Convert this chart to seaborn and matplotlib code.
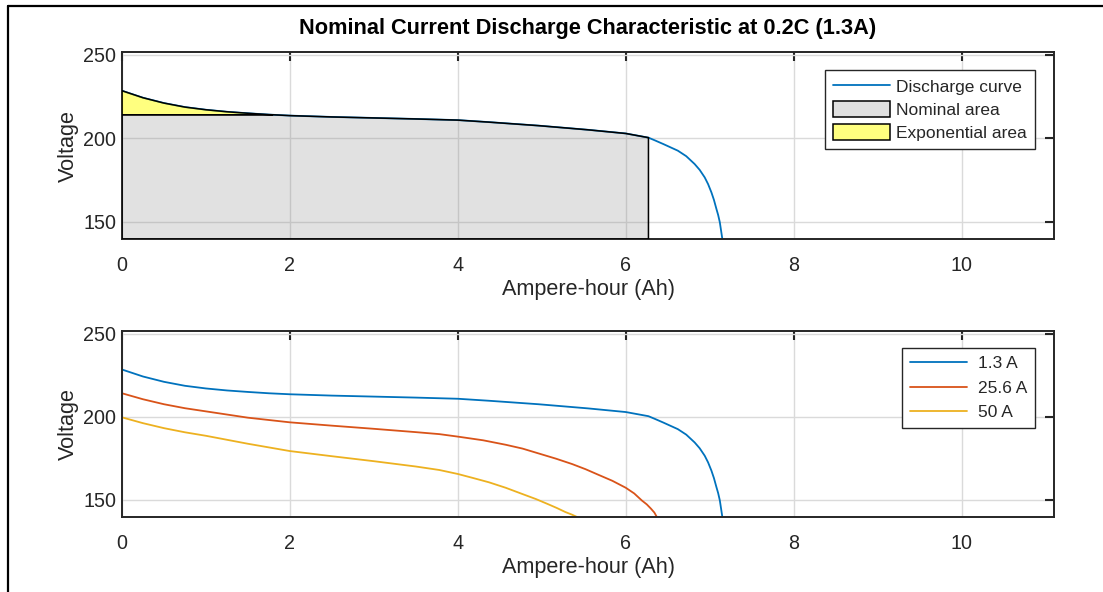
import numpy as np
import pandas as pd
import matplotlib
matplotlib.use("Agg")
import matplotlib.pyplot as plt
from matplotlib.lines import Line2D
from matplotlib.patches import Patch
import seaborn as sns

# ---------------- data ----------------
ah_13 = [0, 0.25, 0.5, 0.75, 1.0, 1.25, 1.5, 1.75, 2.0, 2.5, 3.0, 3.5, 4.0, 4.37,
         4.96, 5.55, 6.0, 6.27, 6.35, 6.45, 6.62, 6.72, 6.82, 6.88, 6.94, 6.98,
         7.02, 7.05, 7.08, 7.10, 7.12, 7.15]
v_13 = [228.4, 224.2, 221.0, 218.6, 217.0, 215.8, 214.9, 214.1, 213.5, 212.7, 212.1,
        211.5, 210.8, 209.6, 207.5, 205.0, 202.8, 200.3, 198.6, 196.4, 192.5, 189.2,
        184.5, 181.0, 176.5, 172.5, 167.5, 163.0, 157.5, 154.0, 149.6, 139.6]

ah_256 = [0, 0.25, 0.5, 0.75, 1.0, 1.5, 2.0, 2.5, 3.0, 3.5, 3.78, 4.0, 4.3, 4.57,
          4.77, 4.96, 5.17, 5.36, 5.52, 5.67, 5.84, 6.0, 6.1, 6.19, 6.25, 6.30,
          6.34, 6.37]
v_256 = [214.1, 210.5, 207.5, 205.1, 203.2, 199.4, 196.6, 194.6, 192.7, 190.7, 189.5,
         188.0, 185.8, 183.1, 180.8, 177.9, 174.7, 171.5, 168.4, 165.1, 161.4, 157.2,
         153.8, 149.6, 147.2, 144.6, 142.3, 139.6]

ah_50 = [0, 0.25, 0.5, 0.75, 1.0, 1.5, 2.0, 2.5, 3.0, 3.5, 3.78, 4.0, 4.18, 4.37,
         4.57, 4.76, 4.93, 5.08, 5.18, 5.28, 5.36, 5.42]
v_50 = [199.6, 196.1, 193.1, 190.6, 188.5, 183.7, 179.3, 176.2, 173.2, 170.0, 167.9,
        165.5, 163.1, 160.5, 157.2, 153.6, 150.4, 147.2, 145.0, 142.6, 141.0, 139.6]

series_labels = ["1.3 A", "25.6 A", "50 A"]
series_colors = ["#0072BD", "#D95319", "#EDB120"]

# exponential / nominal zone limits
q_exp, v_exp = 1.8, 214.0
q_nom, v_nom = 6.27, 200.3

title = "Nominal Current Discharge Characteristic at 0.2C (1.3A)"
xlabel = "Ampere-hour (Ah)"
ylabel = "Voltage"
xticks = [0, 2, 4, 6, 8, 10]
yticks = [150, 200, 250]
xlim = (0, 11.1)
ylim = (139.6, 251.6)

# ---------------- style ----------------
sns.set_theme(style="white")
plt.rcParams['font.family'] = ['Liberation Sans', 'DejaVu Sans']
DARK = "#262626"

fig = plt.figure(figsize=(11.03, 5.92), dpi=100)
W, H = 1103, 592
def axrect(l, t, r, b):
    return [l / W, 1 - b / H, (r - l) / W, (b - t) / H]

ax1 = fig.add_axes(axrect(122, 52, 1054, 239))
ax2 = fig.add_axes(axrect(122, 331, 1054, 517))

def style_axes(ax):
    ax.set_xlim(*xlim)
    ax.set_ylim(*ylim)
    ax.set_xticks(xticks)
    ax.set_yticks(yticks)
    ax.grid(True, color="#DADADA", linewidth=1.0)
    ax.set_axisbelow(True)
    ax.tick_params(direction="in", length=6.5, width=1.5, color=DARK,
                   labelsize=14.2, labelcolor=DARK, top=True, right=True,
                   labeltop=False, labelright=False)
    ax.tick_params(axis="x", pad=12)
    ax.tick_params(axis="y", pad=4)
    for s in ax.spines.values():
        s.set_visible(True)
        s.set_color(DARK)
        s.set_linewidth(1.4)
    ax.set_xlabel(xlabel, fontsize=15.6, color=DARK, labelpad=3)
    ax.set_ylabel(ylabel, fontsize=15.6, color=DARK, labelpad=3)

# ---------------- top panel ----------------
df13 = pd.DataFrame({"Ah": ah_13, "V": v_13})
sns.lineplot(data=df13, x="Ah", y="V", ax=ax1, color=series_colors[0],
             linewidth=1.3, estimator=None, sort=False, zorder=2)

ah_arr = np.array(ah_13)
v_arr = np.array(v_13)
mid = (ah_arr > q_exp) & (ah_arr < q_nom)
nom_x = [0, 0, q_exp] + list(ah_arr[mid]) + [q_nom, q_nom]
nom_y = [ylim[0], v_exp, v_exp] + list(v_arr[mid]) + [v_nom, ylim[0]]
ax1.fill(nom_x, nom_y, facecolor=(0.5, 0.5, 0.5, 0.23), edgecolor="black",
         linewidth=1.1, zorder=3)
low = ah_arr < q_exp
exp_x = list(ah_arr[low]) + [q_exp, 0]
exp_y = list(v_arr[low]) + [v_exp, v_exp]
ax1.fill(exp_x, exp_y, facecolor=(1, 1, 0, 0.5), edgecolor="black",
         linewidth=1.1, zorder=3)

style_axes(ax1)
ax1.set_title(title, fontsize=15.7, fontweight="bold", color="black", pad=13)

h1 = [Line2D([], [], color=series_colors[0], linewidth=1.3),
      Patch(facecolor=(0.5, 0.5, 0.5, 0.23), edgecolor="black", linewidth=1.1),
      Patch(facecolor=(1, 1, 0, 0.5), edgecolor="black", linewidth=1.1)]
leg1 = ax1.legend(h1, ["Discharge curve", "Nominal area", "Exponential area"],
                  loc="upper right", bbox_to_anchor=(1 - 19 / 932, 1 - 18 / 187),
                  fontsize=12.5, frameon=True, fancybox=False, framealpha=1,
                  edgecolor=DARK, borderpad=0.45, handlelength=3.3,
                  handleheight=1.0, handletextpad=0.35, labelspacing=0.38,
                  borderaxespad=0)
leg1.get_frame().set_linewidth(1.0)

# ---------------- bottom panel ----------------
frames = []
for lab, a, v in zip(series_labels, [ah_13, ah_256, ah_50], [v_13, v_256, v_50]):
    frames.append(pd.DataFrame({"Ah": a, "V": v, "Current": lab}))
dfall = pd.concat(frames, ignore_index=True)
sns.lineplot(data=dfall, x="Ah", y="V", hue="Current", hue_order=series_labels,
             palette=series_colors, ax=ax2, linewidth=1.3, estimator=None,
             sort=False, legend=False)
style_axes(ax2)

h2 = [Line2D([], [], color=c, linewidth=1.3) for c in series_colors]
leg2 = ax2.legend(h2, series_labels, loc="upper right",
                  bbox_to_anchor=(1 - 19 / 932, 1 - 17 / 186),
                  fontsize=12.5, frameon=True, fancybox=False, framealpha=1,
                  edgecolor=DARK, borderpad=0.45, handlelength=3.3,
                  handletextpad=0.6, labelspacing=0.55, borderaxespad=0)
leg2.get_frame().set_linewidth(1.0)

# ---------------- figure frame (top and left edges) ----------------
fig.add_artist(Line2D([8 / W, 1.0], [1 - 6 / H, 1 - 6 / H], color="black",
                      linewidth=1.6, transform=fig.transFigure))
fig.add_artist(Line2D([8 / W, 8 / W], [1 - 6 / H, 0.0], color="black",
                      linewidth=1.6, transform=fig.transFigure))

fig.savefig("out.png", dpi=100, facecolor="white")
